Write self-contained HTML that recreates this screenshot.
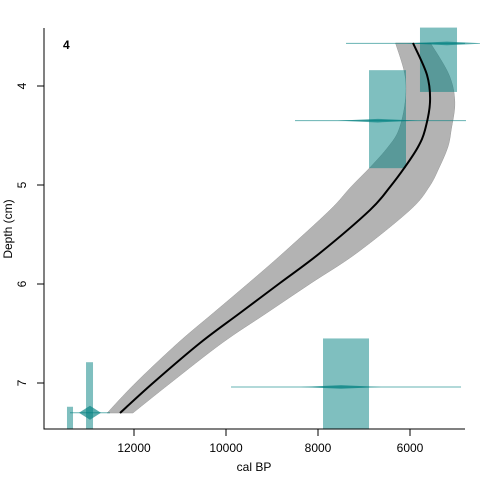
<!DOCTYPE html>
<html><head><meta charset="utf-8"><style>body{margin:0;background:#fff}svg{display:block;font-family:"Liberation Sans",sans-serif}</style></head>
<body>
<svg id="c" width="480" height="480"></svg>
<script>
const meanAges=[5935,5630,5565,5674,5826,6109,6435,6870,7957,8826,9696,10565,11587,12304];
const meanDepths=[3.566,3.889,4.162,4.444,4.616,4.818,5.02,5.253,5.687,5.99,6.293,6.596,7.0,7.303];
const bandHalf=[380,480,540,570,650,750,850,870,800,680,580,480,380,280];
const dateDepths=[3.57,4.35,7.04,7.30];
const dateLo=[4804,4783,4891,12522];
const dateHi=[7391,8500,9891,13391];
const datePeak=[5200,6700,7500,12957];
const boxLo=[4978,6087,6891,13326];
const boxHi=[5783,6891,7891,13457];
const boxTop=[3.41,3.84,6.55,7.24];
const boxBot=[4.06,4.83,7.47,7.47];
const box2Lo=[12891],box2Hi=[13043],box2Top=[6.79],box2Bot=[7.47];
const xTicks=[12000,10000,8000,6000];
const yTicks=[4,5,6,7];
const NS="http://www.w3.org/2000/svg",svg=document.getElementById('c');
const X=v=>134+(12000-v)*0.046, Y=d=>86+(d-4)*99;
function el(t,a){const e=document.createElementNS(NS,t);for(const k in a)e.setAttribute(k,a[k]);svg.appendChild(e);return e;}
function smooth(pts){let d='M'+pts[0][0]+','+pts[0][1];
 for(let i=0;i<pts.length-1;i++){const p0=pts[Math.max(0,i-1)],p1=pts[i],p2=pts[i+1],p3=pts[Math.min(pts.length-1,i+2)];
 d+=` C${p1[0]+(p2[0]-p0[0])/6},${p1[1]+(p2[1]-p0[1])/6} ${p2[0]-(p3[0]-p1[0])/6},${p2[1]-(p3[1]-p1[1])/6} ${p2[0]},${p2[1]}`;}return d;}
let up=meanAges.map((a,i)=>[X(a-bandHalf[i]),Y(meanDepths[i])]);
let dn=meanAges.map((a,i)=>[X(a+bandHalf[i]),Y(meanDepths[i])]).reverse();
let b=el('path',{d:smooth(up)+' L'+smooth(dn).slice(1)+'Z',fill:'#b3b3b3',stroke:'#999','stroke-width':0.5});

for(let i=0;i<dateDepths.length;i++){
 let r=el('rect',{x:X(boxHi[i]),y:Y(boxTop[i]),width:X(boxLo[i])-X(boxHi[i]),height:Y(boxBot[i])-Y(boxTop[i]),fill:'rgba(0,128,128,0.5)'});
 
 let y=Y(dateDepths[i]);
 let l=el('line',{x1:X(dateHi[i]),x2:X(dateLo[i]),y1:y,y2:y,stroke:'rgba(0,128,128,0.6)','stroke-width':1});
 
 let p=X(datePeak[i]),w=i==3?11:40,h=i==3?7:1.8;
 let d=el('polygon',{points:`${p-w},${y} ${p},${y-h} ${p+w},${y} ${p},${y+h}`,fill:'rgba(0,128,128,0.65)'});
 
}
box2Lo.forEach((v,i)=>{let r=el('rect',{x:X(box2Hi[i]),y:Y(box2Top[i]),width:X(v)-X(box2Hi[i]),height:Y(box2Bot[i])-Y(box2Top[i]),fill:'rgba(0,128,128,0.5)'});
 });
let m=el('path',{d:smooth(meanAges.map((a,i)=>[X(a),Y(meanDepths[i])])),fill:'none',stroke:'#000','stroke-width':2});

let ax=el('path',{d:'M44,28V429H465',fill:'none',stroke:'#000'});

xTicks.forEach(v=>{let x=X(v);el('line',{x1:x,x2:x,y1:429,y2:436,stroke:'#000'});
 let t=el('text',{x:x,y:452,'font-size':12,'text-anchor':'middle'});t.textContent=v;
 });
yTicks.forEach(v=>{let y=Y(v);el('line',{x1:37,x2:44,y1:y,y2:y,stroke:'#000'});
 let t=el('text',{x:26,y:y,'font-size':12,'text-anchor':'middle',transform:`rotate(-90 26 ${y})`});t.textContent=v;
 });
let xt=el('text',{x:254,y:471,'font-size':12,'text-anchor':'middle'});xt.textContent='cal BP';

let yt=el('text',{x:12,y:229,'font-size':12,'text-anchor':'middle',transform:'rotate(-90 12 229)'});yt.textContent='Depth (cm)';

let pl=el('text',{x:63,y:49,'font-size':12,'font-weight':'bold'});pl.textContent='4';

</script>
</body></html>
